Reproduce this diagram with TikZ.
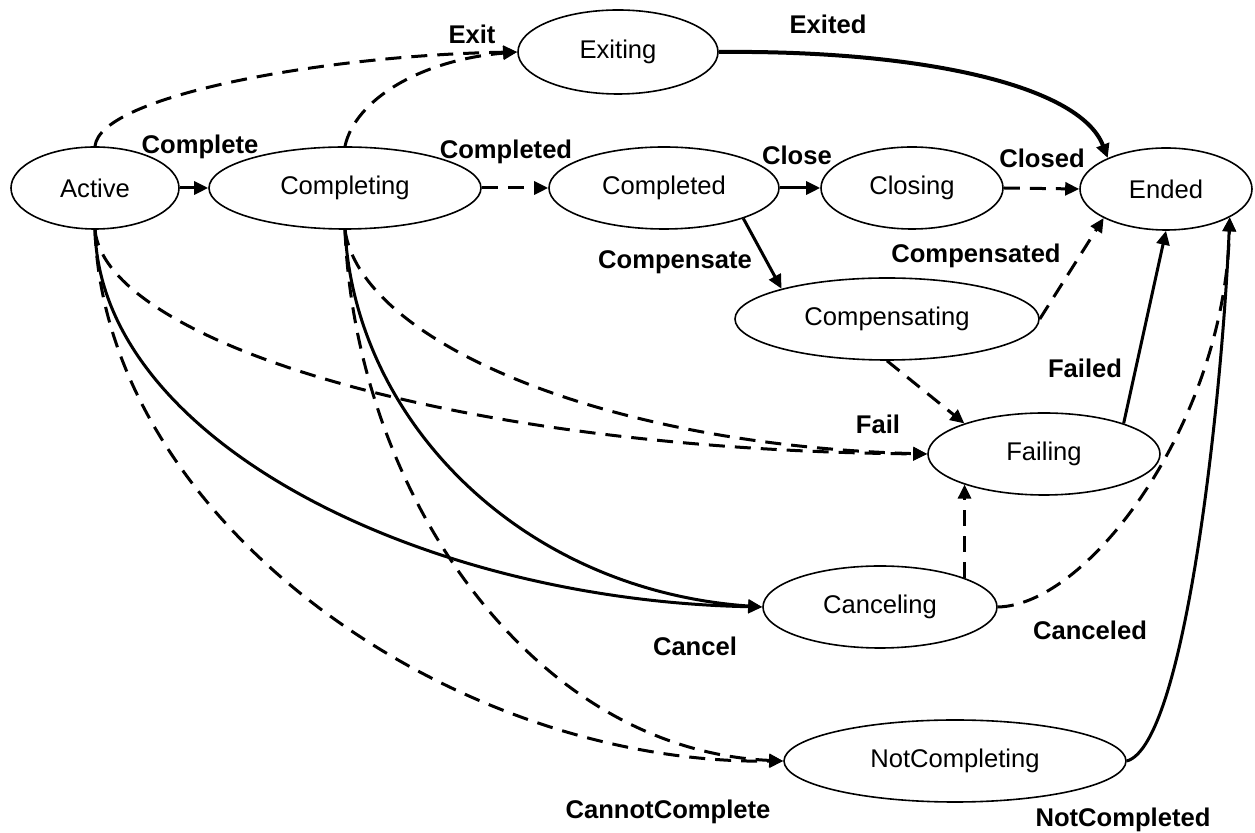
\documentclass[tikz,border=0pt]{standalone}
\usepackage{fontspec}
\setmainfont{Liberation Sans}
\usetikzlibrary{arrows.meta,shapes.geometric}
\begin{document}
\begin{tikzpicture}[x=0.5pt,y=-0.5pt,
  state/.style={ellipse,draw,line width=0.8pt,inner sep=0pt,font=\fontsize{12.8}{15}\selectfont},
  lbl/.style={font=\fontsize{12.8}{15}\selectfont\bfseries,inner sep=0pt},
  conn/.style={line width=1.5pt,-{Triangle[length=7pt,width=6.5pt]}},
  dsh/.style={conn,dash pattern=on 8pt off 5pt}]
\useasboundingbox (0,0) rectangle (1255,833);
% states
\node[state,minimum width=84pt,minimum height=41pt] (Active) at (95,188) {Active};
\node[state,minimum width=136pt,minimum height=41pt] (Completing) at (345,188) {Completing};
\node[state,minimum width=100pt,minimum height=42pt] (Exiting) at (618,52) {Exiting};
\node[state,minimum width=115pt,minimum height=41pt] (Completed) at (664,188) {Completed};
\node[state,minimum width=91pt,minimum height=41pt] (Closing) at (912,188) {Closing};
\node[state,minimum width=86pt,minimum height=41pt] (Ended) at (1166,189) {Ended};
\node[state,minimum width=152pt,minimum height=41pt] (Compensating) at (887,319) {Compensating};
\node[state,minimum width=116pt,minimum height=41pt] (Failing) at (1044,454) {Failing};
\node[state,minimum width=117pt,minimum height=41pt] (Canceling) at (880,607) {Canceling};
\node[state,minimum width=171pt,minimum height=41pt] (NotCompleting) at (955,761) {NotCompleting};
% connectors
\draw[dsh] (Active.north) .. controls (100,95) and (330,55) .. (Exiting.west);
\draw[dsh] (Completing.north) .. controls (355,100) and (420,60) .. (Exiting.west);
\draw[conn] (Active.east) -- (Completing.west);
\draw[dsh] (Completing.east) -- (Completed.west);
\draw[conn] (Completed.east) -- (Closing.west);
\draw[dsh] (Closing.east) -- (Ended.west);
\draw[conn,line width=2pt] (Exiting.east) .. controls (920,50) and (1080,85) .. (Ended.152);
\draw[conn] (Completed.-21) -- (Compensating.164);
\draw[dsh] (Compensating.east) -- (Ended.205);
\draw[conn] (Failing.21) -- (Ended.south);
\draw[dsh] (Compensating.south) -- (Failing.159);
\draw[dsh] (Canceling.19) -- (Canceling.19 |- Failing.201);
\draw[dsh] (Active.south) .. controls (105,340) and (450,450) .. (Failing.west);
\draw[dsh] (Completing.south) .. controls (360,340) and (600,445) .. (Failing.west);
\draw[conn] (Active.south) .. controls (100,440) and (420,600) .. (Canceling.west);
\draw[conn] (Completing.south) .. controls (355,420) and (520,590) .. (Canceling.west);
\draw[dsh] (Active.south) .. controls (105,520) and (450,765) .. (NotCompleting.west);
\draw[dsh] (Completing.south) .. controls (355,490) and (530,750) .. (NotCompleting.west);
\draw[dsh] (Canceling.east) .. controls (1090,605) and (1225,420) .. (Ended.-24);
\draw[conn] (NotCompleting.east) .. controls (1185,745) and (1222,400) .. (Ended.-24);
% labels
\node[lbl] (lExit) at (472,34) {Exit};
\node[lbl] (lExited) at (828,24) {Exited};
\node[lbl] (lComplete) at (200,147) {Complete};
\node[lbl] (lCompleted) at (506,152) {Completed};
\node[lbl] (lClose) at (797,155) {Close};
\node[lbl] (lClosed) at (1042,158) {Closed};
\node[lbl] (lCompensate) at (675,262) {Compensate};
\node[lbl] (lCompensated) at (976,256) {Compensated};
\node[lbl] (lFailed) at (1085,368) {Failed};
\node[lbl] (lFail) at (878,424) {Fail};
\node[lbl] (lCancel) at (695,646) {Cancel};
\node[lbl] (lCanceled) at (1090,630) {Canceled};
\node[lbl] (lCannot) at (668,812) {CannotComplete};
\node[lbl] (lNotCompleted) at (1123,820) {NotCompleted};
\end{tikzpicture}
\end{document}
